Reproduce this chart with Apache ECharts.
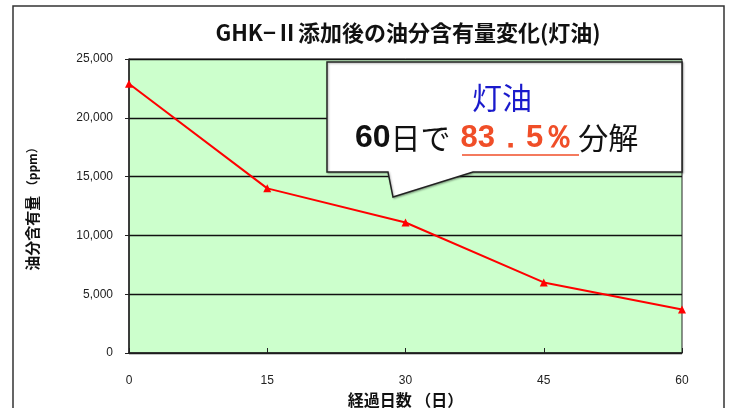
<!DOCTYPE html>
<html>
<head>
<meta charset="utf-8">
<script src="https://cdn.jsdelivr.net/npm/echarts@6/dist/echarts.min.js"></script>
<style>
  html, body { margin: 0; padding: 0; background: #fff; }
  #chart { width: 731px; height: 408px; }
</style>
</head>
<body>
<div id="chart"></div>
<script>
// 経過日数と油分含有量 (ppm)
const days = [0, 15, 30, 45, 60];
const oilContent = [22900, 14000, 11100, 6000, 3700];
const yTicks = [0, 5000, 10000, 15000, 20000, 25000];
const xTicks = [0, 15, 30, 45, 60];

const titleText = 'GHK−Ⅱ添加後の油分含有量変化(灯油)';
const yName = '{a|油分含有量} {p|（ppm）}';
const xName = '経過日数 （日）';

const jp = '"Noto Sans CJK JP", sans-serif';
const num = '"Liberation Sans", Arial, sans-serif';

const chart = echarts.init(document.getElementById('chart'));

const option = {
  backgroundColor: '#fff',
  animation: false,
  title: {
    text: titleText,
    left: 403,
    textAlign: 'center',
    top: 17,
    textStyle: { fontFamily: jp, fontSize: 22, fontWeight: 'bold', color: '#111' },
  },
  grid: {
    left: 129,
    right: 49,
    top: 59,
    bottom: 55,
    outerBoundsMode: 'none',
    show: true,
    backgroundColor: '#ccffcc',
    borderColor: '#222',
    borderWidth: 1,
  },
  xAxis: {
    type: 'value',
    min: xTicks[0],
    max: xTicks[xTicks.length - 1],
    interval: 15,
    name: xName,
    nameLocation: 'middle',
    nameGap: 31,
    nameTextStyle: { fontFamily: jp, fontSize: 16, fontWeight: 'bold', color: '#111' },
    axisLine: { show: true, lineStyle: { color: '#222', width: 1.5 } },
    axisTick: { show: true, inside: true, length: 5, lineStyle: { color: '#222' } },
    axisLabel: { margin: 22, fontFamily: num, fontSize: 12, color: '#222' },
    splitLine: { show: false },
  },
  yAxis: {
    type: 'value',
    min: yTicks[0],
    max: yTicks[yTicks.length - 1],
    interval: 5000,
    name: yName,
    nameLocation: 'middle',
    nameGap: 89,
    nameRotate: 90,
    nameTextStyle: {
      rich: {
        a: { fontFamily: jp, fontSize: 15, fontWeight: 'bold', color: '#111' },
        p: { fontFamily: jp, fontSize: 12, fontWeight: 'bold', color: '#111' },
      },
    },
    axisLine: { show: true, lineStyle: { color: '#222', width: 1.5 } },
    axisTick: { show: true, length: 4, lineStyle: { color: '#222' } },
    axisLabel: {
      margin: 16,
      fontFamily: num,
      fontSize: 12,
      color: '#222',
      formatter: (v) => v.toLocaleString('en-US'),
    },
    splitLine: { show: true, lineStyle: { color: '#111', width: 1.3 } },
  },
  series: [
    {
      type: 'line',
      data: days.map((d, i) => [d, oilContent[i]]),
      symbol: 'triangle',
      symbolSize: 8,
      lineStyle: { color: '#ff0000', width: 2 },
      itemStyle: { color: '#ff0000' },
      z: 5,
    },
  ],
  graphic: [
    // 外枠
    {
      type: 'rect',
      shape: { x: 13, y: 6, width: 711, height: 420 },
      style: { fill: 'none', stroke: '#333', lineWidth: 1.5 },
      silent: true,
    },
    // 吹き出し
    {
      type: 'polygon',
      shape: {
        points: [[327, 62], [682, 62], [682, 172], [473, 172], [393, 197], [388, 172], [327, 172]],
      },
      style: {
        fill: '#fff',
        stroke: '#222',
        lineWidth: 1.5,
        shadowColor: 'rgba(0,0,0,0.3)',
        shadowBlur: 2,
        shadowOffsetX: 1,
        shadowOffsetY: 1,
      },
      z: 10,
    },
    {
      type: 'text',
      x: 502,
      y: 83,
      style: {
        text: '灯油',
        fontFamily: jp,
        fontSize: 30,
        fill: '#1a1acc',
        align: 'center',
      },
      z: 11,
    },
    {
      type: 'text',
      x: 355,
      y: 122,
      style: {
        text: '{b|60}{n|日で}{o|83．5％}{m|分解}',
        rich: {
          b: { fontFamily: num, fontSize: 32, fontWeight: 'bold', fill: '#111' },
          n: { fontFamily: jp, fontSize: 30, fill: '#111' },
          o: { fontFamily: num, fontSize: 31, fontWeight: 'bold', fill: '#f04e28', padding: [0, 4, 0, 10] },
          m: { fontFamily: jp, fontSize: 30, fill: '#111' },
        },
      },
      z: 11,
    },
    {
      type: 'line',
      shape: { x1: 462, y1: 155, x2: 579, y2: 155 },
      style: { stroke: '#f04e28', lineWidth: 1.5 },
      z: 11,
    },
  ],
};

chart.setOption(option);
</script>
</body>
</html>
